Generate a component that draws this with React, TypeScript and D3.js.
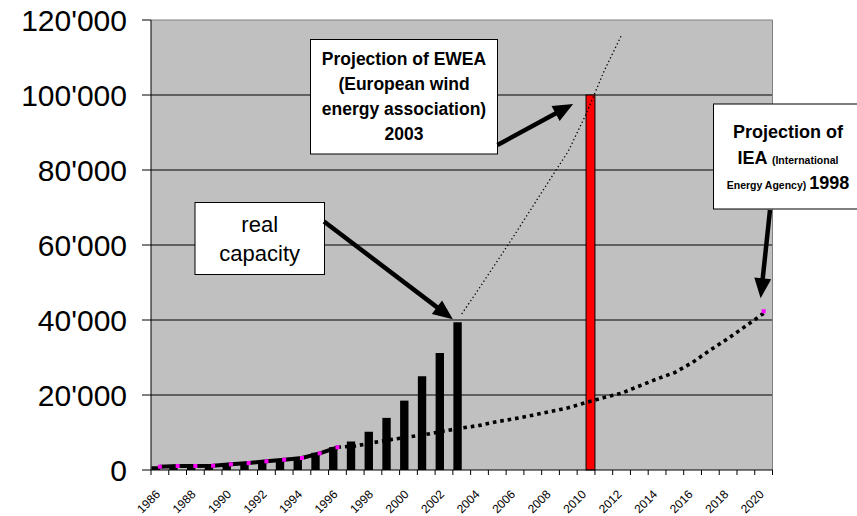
import React from "react";
import * as d3 from "d3";

const years = ["1986","1987","1988","1989","1990","1991","1992","1993","1994","1995","1996","1997","1998","1999","2000","2001","2002","2003","2004","2005","2006","2007","2008","2009","2010","2011","2012","2013","2014","2015","2016","2017","2018","2019","2020"];
const labelYears = ["1986","1988","1990","1992","1994","1996","1998","2000","2002","2004","2006","2008","2010","2012","2014","2016","2018","2020"];

const realYears = ["1986","1987","1988","1989","1990","1991","1992","1993","1994","1995","1996","1997","1998","1999","2000","2001","2002","2003"];
const realCapacity = [1000,1100,1200,1400,1700,2000,2400,2800,3300,4600,6100,7600,10200,13900,18500,25000,31200,39400];

const eweaBarYears = ["2010"];
const eweaBarValues = [100000];

const eweaLineYears = ["2003","2004","2005","2006","2007","2008","2009","2010","2011","2012"];
const eweaLineValues = [41600,48600,55700,62900,70300,77700,85000,94900,106200,116000];

const ieaValues = [880,1070,1070,1150,1520,1870,2320,2750,3200,4450,6050,6400,7300,8100,8800,9500,10400,11200,11900,12900,13700,14600,15600,16600,18000,19300,20500,22400,24300,26000,28700,32000,35100,38400,41800];
const ieaSolidUntil = "1996";
const ieaMarkerYears = ["1986","1987","1988","1989","1990","1991","1992","1993","1994","1995","1996","2020"];

const yTicks = [0,20000,40000,60000,80000,100000,120000];

const W = 857, H = 516;
const PL = 151, PR = 772.5, PT = 20, PB = 470;
const FONT = "'Liberation Sans', Arial, Helvetica, sans-serif";

const fmt = d3.formatLocale({ decimal: ".", thousands: "'", grouping: [3], currency: ["", ""] }).format(",");

function Arrow({ x1, y1, x2, y2, sw = 4.5, hl = 20, hw = 17 }: any) {
  const dx = x2 - x1, dy = y2 - y1;
  const len = Math.hypot(dx, dy);
  const ux = dx / len, uy = dy / len;
  const bx = x2 - ux * hl, by = y2 - uy * hl;
  const px = -uy, py = ux;
  const pts = [[x2, y2], [bx + px * hw / 2, by + py * hw / 2], [bx - px * hw / 2, by - py * hw / 2]];
  return (
    <g>
      <line x1={x1} y1={y1} x2={bx + ux * 2} y2={by + uy * 2} stroke="#000" strokeWidth={sw} />
      <polygon points={pts.map(p => p.join(",")).join(" ")} fill="#000" />
    </g>
  );
}

export default function App() {
  const x = d3.scaleBand<string>().domain(years).range([PL, PR]).paddingInner(0).paddingOuter(0);
  const sub = d3.scaleBand<string>().domain(["real", "ewea"]).range([0, x.bandwidth()]).padding(0);
  const y = d3.scaleLinear().domain([0, 120000]).range([PB, PT]);
  const cx = (yr: string) => (x(yr) as number) + x.bandwidth() / 2;

  const line = d3.line<[string, number]>().x(d => cx(d[0])).y(d => y(d[1]));
  const ieaPairs: [string, number][] = years.map((yr, i) => [yr, ieaValues[i]]);
  const solidIdx = years.indexOf(ieaSolidUntil);
  const ieaSolid = ieaPairs.slice(0, solidIdx + 1);
  const ieaDotted = ieaPairs.slice(solidIdx);
  const eweaPairs: [string, number][] = eweaLineYears.map((yr, i) => [yr, eweaLineValues[i]]);

  const realLast = realYears[realYears.length - 1];
  const realTipX = x(realLast) as number;
  const realTipY = y(realCapacity[realCapacity.length - 1]) - 3;
  const eweaTipX = (x(eweaBarYears[0]) as number) - 4;
  const eweaTipY = y(eweaBarValues[0]) + 9;
  const ieaTipX = cx("2020") - 3;
  const ieaTipY = y(ieaValues[ieaValues.length - 1]) - 15;

  return (
    <svg width={W} height={H} style={{ position: "absolute", left: 0, top: 0, background: "#fff" }} fontFamily={FONT}>
      <rect x={PL} y={PT} width={PR - PL} height={PB - PT} fill="#C0C0C0" />
      {yTicks.filter(t => t > 0 && t < 120000).map(t => (
        <line key={t} x1={PL} x2={PR} y1={y(t)} y2={y(t)} stroke="#000" strokeWidth={1} />
      ))}
      <line x1={PL} x2={PR} y1={PT} y2={PT} stroke="#808080" strokeWidth={1} />
      <line x1={PR} x2={PR} y1={PT} y2={PB} stroke="#808080" strokeWidth={1} />

      {realYears.map((yr, i) => (
        <rect key={yr} x={(x(yr) as number) + (sub("real") as number) + 0.5} y={y(realCapacity[i])}
          width={sub.bandwidth() - 0.5} height={PB - y(realCapacity[i])} fill="#000" />
      ))}
      {eweaBarYears.map((yr, i) => (
        <rect key={yr} x={(x(yr) as number) + (sub("ewea") as number)} y={y(eweaBarValues[i])}
          width={sub.bandwidth()} height={PB - y(eweaBarValues[i])} fill="#FF0000" stroke="#000" strokeWidth={1} />
      ))}

      <path d={line(eweaPairs) || ""} fill="none" stroke="#000" strokeWidth={1.3} strokeDasharray="1.3 2.6" />
      <path d={line(ieaSolid) || ""} fill="none" stroke="#000" strokeWidth={4} />
      <path d={line(ieaDotted) || ""} fill="none" stroke="#000" strokeWidth={3.6} strokeDasharray="3.6 3.9" />
      {ieaMarkerYears.map(yr => {
        const v = ieaValues[years.indexOf(yr)];
        return <rect key={yr} x={cx(yr) - 2} y={y(v) - 2 - (yr === "2020" ? 2 : 0)} width={4} height={4} fill="#FF00FF" />;
      })}

      <line x1={PL} x2={PL} y1={PT} y2={PB} stroke="#000" strokeWidth={1} />
      <line x1={PL} x2={PR} y1={PB} y2={PB} stroke="#000" strokeWidth={1} />
      {yTicks.map(t => (
        <g key={t}>
          <line x1={PL - 9} x2={PL} y1={y(t)} y2={y(t)} stroke="#000" strokeWidth={1} />
          <text x={127} y={y(t)} dy="0.36em" textAnchor="end" fontSize={30} fill="#000">{fmt(t)}</text>
        </g>
      ))}
      {years.concat(["end"]).map((yr, i) => {
        const xx = yr === "end" ? PR : (x(yr) as number);
        return <line key={"t" + i} x1={xx} x2={xx} y1={PB} y2={PB + 5} stroke="#000" strokeWidth={1} />;
      })}
      {labelYears.map(yr => (
        <text key={yr} transform={`translate(${cx(yr) + 1},${495}) rotate(-45)`} textAnchor="end" fontSize={12} fill="#000">{yr}</text>
      ))}

      {/* real capacity annotation */}
      <rect x={195} y={202.5} width={129.5} height={72} fill="#fff" stroke="#000" strokeWidth={1} />
      <text x={259.7} y={231.5} textAnchor="middle" fontSize={22}>real</text>
      <text x={259.7} y={261} textAnchor="middle" fontSize={22}>capacity</text>
      <Arrow x1={324} y1={221.5} x2={realTipX} y2={realTipY} />

      {/* EWEA annotation */}
      <rect x={310.5} y={39.5} width={187} height={114.5} fill="#fff" stroke="#000" strokeWidth={1} />
      <g fontWeight="bold" fontSize={17.5} textAnchor="middle">
        <text x={404} y={65}>Projection of EWEA</text>
        <text x={404} y={90}>(European wind</text>
        <text x={404} y={115}>energy association)</text>
        <text x={404} y={140}>2003</text>
      </g>
      <Arrow x1={497.5} y1={145} x2={eweaTipX} y2={eweaTipY} />

      {/* IEA annotation */}
      <rect x={713.5} y={104} width={160} height={105} fill="#fff" stroke="#000" strokeWidth={1} />
      <g fontWeight="bold" textAnchor="middle">
        <text x={788} y={138} fontSize={18}>Projection of</text>
        <text x={788} y={163.5}>
          <tspan fontSize={18}>IEA </tspan><tspan fontSize={10.5}>(International</tspan>
        </text>
        <text x={788} y={188.5}>
          <tspan fontSize={10.5}>Energy Agency) </tspan><tspan fontSize={18}>1998</tspan>
        </text>
      </g>
      <Arrow x1={770} y1={210} x2={ieaTipX} y2={ieaTipY} />
    </svg>
  );
}
